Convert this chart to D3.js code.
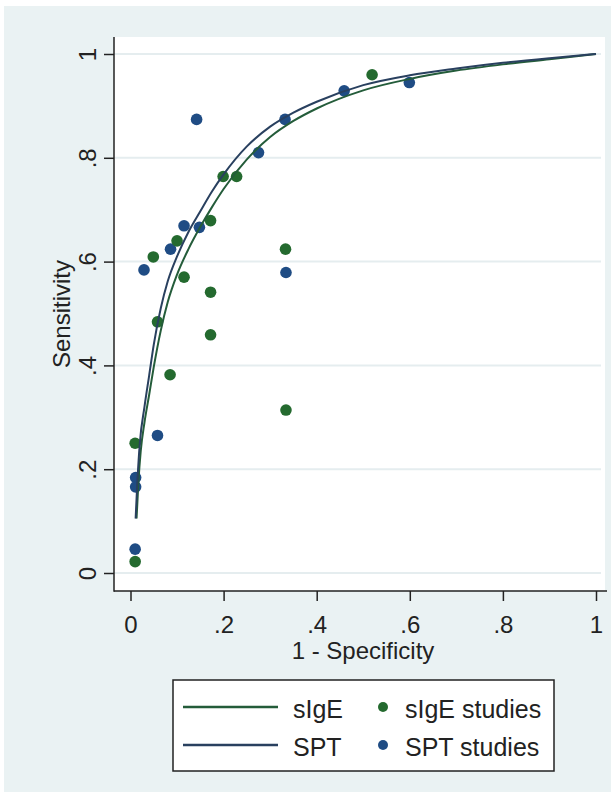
<!DOCTYPE html>
<html>
<head>
<meta charset="utf-8">
<script src="https://cdn.jsdelivr.net/npm/d3@7"></script>
<style>
  body{margin:0;background:#fff;}
  svg{display:block;font-family:"Liberation Sans",Arial,sans-serif;}
</style>
</head>
<body>
<svg id="chart" width="611" height="792"></svg>
<script>
// study points (1 - specificity, sensitivity)
const sigeFpr  = [0.519,0.199,0.228,0.172,0.100,0.049,0.333,0.115,0.172,0.058,0.172,0.085,0.334,0.010,0.010];
const sigeSens = [0.960,0.764,0.764,0.679,0.640,0.609,0.624,0.570,0.541,0.484,0.459,0.382,0.314,0.250,0.022];

const sptFpr  = [0.599,0.459,0.142,0.332,0.275,0.115,0.148,0.086,0.029,0.334,0.058,0.011,0.011,0.010];
const sptSens = [0.945,0.929,0.874,0.874,0.810,0.669,0.666,0.624,0.584,0.579,0.265,0.184,0.166,0.046];

// SROC curves
const sptCurveX  = [0.011,0.015,0.02,0.03,0.04,0.05,0.065,0.08,0.1,0.125,0.15,0.175,0.2,0.25,0.3,0.35,0.4,0.5,0.6,0.7,0.8,0.9,1];
const sptCurveY  = [0.105,0.18,0.25,0.32,0.38,0.44,0.51,0.562,0.61,0.658,0.697,0.735,0.768,0.822,0.86,0.887,0.908,0.94,0.959,0.972,0.983,0.992,1];
const sigeCurveX = [0.013,0.017,0.022,0.03,0.04,0.05,0.065,0.08,0.1,0.125,0.15,0.175,0.2,0.25,0.3,0.35,0.4,0.5,0.6,0.7,0.8,0.9,1];
const sigeCurveY = [0.105,0.175,0.235,0.29,0.343,0.397,0.467,0.522,0.575,0.625,0.667,0.705,0.74,0.797,0.84,0.871,0.895,0.93,0.952,0.968,0.98,0.99,1];

const xTicks = [0,0.2,0.4,0.6,0.8,1];
const xTickLabels = ["0",".2",".4",".6",".8","1"];
const yTicks = [0,0.2,0.4,0.6,0.8,1];
const yTickLabels = ["0",".2",".4",".6",".8","1"];

const legendItems = ["sIgE","SPT","sIgE studies","SPT studies"];

const green="#246a2f", blue="#1f4c84";
const greenLine="#245c3a", blueLine="#29405f";
const font=24;

const svg=d3.select('#chart');

// graph region + plot region
svg.append('rect').attr('x',4).attr('y',6).attr('width',607).attr('height',786).attr('fill','#eaf2f3');
const plot={left:114,top:37,right:605,bottom:591};
svg.append('rect').attr('x',plot.left).attr('y',plot.top)
  .attr('width',plot.right-plot.left).attr('height',plot.bottom-plot.top).attr('fill','#fff');

const x=d3.scaleLinear().domain([0,1]).range([130.5,596]);
const y=d3.scaleLinear().domain([0,1]).range([573,54]);

// gridlines
svg.append('g').selectAll('line').data(yTicks).join('line')
  .attr('x1',plot.left).attr('x2',plot.right-4)
  .attr('y1',d=>y(d)).attr('y2',d=>y(d))
  .attr('stroke','#e5edef').attr('stroke-width',2);

// axes
const yAxis=d3.axisLeft(y).tickValues(yTicks).tickSize(10).tickFormat((d,i)=>yTickLabels[i]);
const gy=svg.append('g').attr('transform','translate('+plot.left+',0)').call(yAxis);
gy.select('.domain').remove();
gy.selectAll('.tick line').attr('stroke','#222').attr('stroke-width',1.5);
gy.selectAll('.tick text')
  .attr('transform','rotate(-90)').attr('x',0).attr('y',-18).attr('dy',0)
  .attr('text-anchor','middle').attr('fill','#222').style('font-size',font+'px');

const xAxis=d3.axisBottom(x).tickValues(xTicks).tickSize(10).tickFormat((d,i)=>xTickLabels[i]);
const gx=svg.append('g').attr('transform','translate(0,'+plot.bottom+')').call(xAxis);
gx.select('.domain').remove();
gx.selectAll('.tick line').attr('stroke','#222').attr('stroke-width',1.5);
gx.selectAll('.tick text').attr('y',42).attr('dy',0).attr('fill','#222').style('font-size',font+'px');

svg.append('line').attr('x1',plot.left).attr('x2',plot.left).attr('y1',plot.top).attr('y2',plot.bottom+0.75)
  .attr('stroke','#222').attr('stroke-width',1.5);
svg.append('line').attr('x1',plot.left).attr('x2',plot.right+2).attr('y1',plot.bottom).attr('y2',plot.bottom)
  .attr('stroke','#222').attr('stroke-width',1.5);

// axis titles
svg.append('text').attr('x',363).attr('y',659).attr('text-anchor','middle')
  .attr('fill','#222').style('font-size',font+'px').text('1 - Specificity');
svg.append('text').attr('transform','translate(70,314) rotate(-90)').attr('text-anchor','middle')
  .attr('fill','#222').style('font-size',font+'px').text('Sensitivity');

// study dots
const r=5.8;
svg.append('g').selectAll('circle').data(d3.zip(sptFpr,sptSens)).join('circle')
  .attr('cx',d=>x(d[0])).attr('cy',d=>y(d[1])).attr('r',r).attr('fill',blue);
svg.append('g').selectAll('circle').data(d3.zip(sigeFpr,sigeSens)).join('circle')
  .attr('cx',d=>x(d[0])).attr('cy',d=>y(d[1])).attr('r',r).attr('fill',green);

// curves
const line=d3.line().x(d=>x(d[0])).y(d=>y(d[1])).curve(d3.curveMonotoneX);
svg.append('path').datum(d3.zip(sigeCurveX,sigeCurveY)).attr('d',line)
  .attr('fill','none').attr('stroke',greenLine).attr('stroke-width',2);
svg.append('path').datum(d3.zip(sptCurveX,sptCurveY)).attr('d',line)
  .attr('fill','none').attr('stroke',blueLine).attr('stroke-width',2);

// legend
const lg=svg.append('g');
lg.append('rect').attr('x',173).attr('y',680).attr('width',381).attr('height',91)
  .attr('fill','#fff').attr('stroke','#222').attr('stroke-width',1.5);
const rows=[707,745];
lg.selectAll('line.key').data([greenLine,blueLine]).join('line').attr('class','key')
  .attr('x1',183).attr('x2',278).attr('y1',(d,i)=>rows[i]).attr('y2',(d,i)=>rows[i])
  .attr('stroke',d=>d).attr('stroke-width',2.5);
lg.selectAll('circle').data([green,blue]).join('circle')
  .attr('cx',383).attr('cy',(d,i)=>rows[i]).attr('r',5).attr('fill',d=>d);
lg.selectAll('text.l1').data(legendItems.slice(0,2)).join('text').attr('class','l1')
  .attr('x',293).attr('y',(d,i)=>rows[i]+11).attr('fill','#222').style('font-size',(font+1)+'px').text(d=>d);
lg.selectAll('text.l2').data(legendItems.slice(2)).join('text').attr('class','l2')
  .attr('x',405).attr('y',(d,i)=>rows[i]+11).attr('fill','#222').style('font-size',(font+1)+'px').text(d=>d);
</script>
</body>
</html>
